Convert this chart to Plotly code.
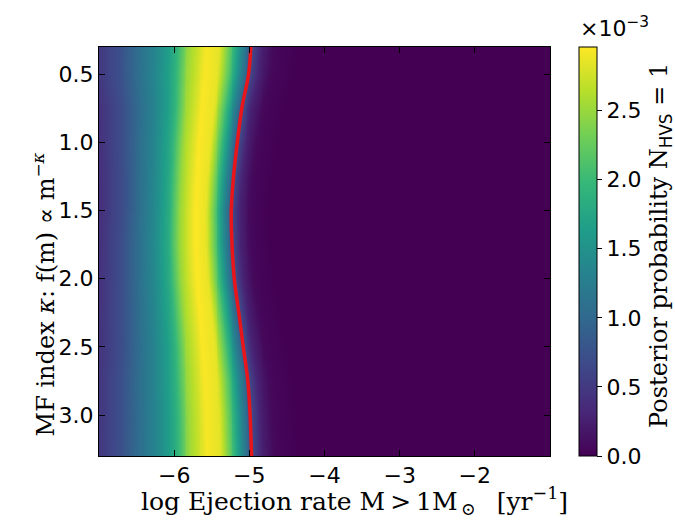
import numpy as np
import plotly.graph_objects as go

# Mass-function index rows (kappa) and log ejection-rate columns
kappa_rows = [0.3, 0.5, 0.75, 1.0, 1.25, 1.5, 1.75, 2.0, 2.25, 2.5, 2.75, 3.0, 3.3]
# position of the posterior peak for each kappa row (log rate)
peak_center = [-5.58, -5.60, -5.64, -5.68, -5.71, -5.73, -5.73, -5.71, -5.67, -5.63, -5.60, -5.58, -5.57]
# upper bound curve (red line) for each kappa row
upper_bound = [-4.98, -5.01, -5.10, -5.16, -5.21, -5.24, -5.23, -5.20, -5.14, -5.08, -5.02, -4.99, -4.97]
# peak posterior value per row, units of 1e-3
peak_value = [2.93, 2.94, 2.95, 2.96, 2.96, 2.96, 2.96, 2.96, 2.96, 2.95, 2.94, 2.93, 2.93]

# cross-section of the posterior around its peak (offset in dex, fraction of peak)
profile_offset = [-2.5, -1.3, -0.95, -0.5, -0.35, -0.2, 0.0, 0.15, 0.28, 0.40, 0.50, 0.60, 0.75, 1.0, 6.0]
profile_frac = [0.03, 0.13, 0.25, 0.50, 0.62, 0.85, 1.0, 0.97, 0.72, 0.45, 0.25, 0.10, 0.02, 0.0, 0.0]

cbar_ticks = [0.0, 0.5, 1.0, 1.5, 2.0, 2.5]
x_ticks = [-6, -5, -4, -3, -2]
y_ticks = [0.5, 1.0, 1.5, 2.0, 2.5, 3.0]

log_rate = np.arange(-7.0, -0.999, 0.025)
kappa = np.arange(0.3, 3.3001, 0.05)

centers = np.interp(kappa, kappa_rows, peak_center)
bounds = np.interp(kappa, kappa_rows, upper_bound)
peaks = np.interp(kappa, kappa_rows, peak_value)
widths = (bounds - centers) / 0.5

z = np.array([
    pk * np.interp((log_rate - c) / w, profile_offset, profile_frac)
    for c, w, pk in zip(centers, widths, peaks)
])

TICK_FONT = dict(family="DejaVu Sans", size=22, color="black")
LABEL_FONT = dict(family="DejaVu Serif", size=24, color="black")
XLABEL_FONT = dict(family="DejaVu Serif", size=25, color="black")

fig = go.Figure()
fig.add_trace(go.Heatmap(
    x=log_rate, y=kappa, z=z,
    colorscale="Viridis", zmin=0, zmax=float(z.max()),
    zsmooth="best",
    colorbar=dict(
        x=1.064, xref="paper", xanchor="left", xpad=0,
        thickness=18, len=1.0, lenmode="fraction", y=0.5, yanchor="middle", ypad=0,
        outlinecolor="black", outlinewidth=1,
        ticks="outside", ticklen=5, tickcolor="black",
        tickvals=cbar_ticks,
        ticktext=[f"{v:.1f}" for v in cbar_ticks],
        tickfont=TICK_FONT,
    ),
))
fig.add_trace(go.Scatter(
    x=upper_bound, y=kappa_rows, mode="lines",
    line=dict(color="#e8151b", width=3.5, shape="spline"),
    showlegend=False, hoverinfo="skip",
))

axis_common = dict(
    ticks="inside", ticklen=6, tickcolor="black", mirror="allticks",
    showline=True, linecolor="black", linewidth=1, showgrid=False, zeroline=False,
    tickfont=TICK_FONT,
)

fig.update_layout(
    width=675, height=520,
    margin=dict(l=99, r=125, t=47, b=64),
    paper_bgcolor="white", plot_bgcolor="white",
    xaxis=dict(range=[-7, -1], tickvals=x_ticks,
               ticktext=[str(v).replace("-", "\u2212") for v in x_ticks], **axis_common),
    yaxis=dict(range=[3.3, 0.3], tickvals=y_ticks,
               ticktext=[f"{v:.1f}" for v in y_ticks], **axis_common),
    annotations=[
        dict(text="\u00d710<sup>\u22123</sup>", xref="paper", yref="paper",
             x=1.062, y=1.0, xanchor="left", yanchor="bottom", yshift=4, showarrow=False,
             font=TICK_FONT),
        dict(text="log Ejection rate M\u2009>\u20091M<sub>\u2009\u2299</sub>\u2009  [yr<sup>\u22121</sup>]",
             xref="paper", yref="paper", x=0.566, y=-0.11, xanchor="center", yanchor="middle",
             showarrow=False, font=XLABEL_FONT),
        dict(text="MF index <i>\u03ba</i>: f(m) \u221d m<sup>\u2212<i>\u03ba</i></sup>",
             xref="paper", yref="paper", x=-0.122, y=0.395, xanchor="center", yanchor="middle",
             textangle=-90, showarrow=False, font=LABEL_FONT),
        dict(text="Posterior probability N<sub><span style=\"font-family:'DejaVu Sans'\">HVS</span></sub> = 1",
             xref="paper", yref="paper", x=1.246, y=0.516, xanchor="center", yanchor="middle",
             textangle=-90, showarrow=False, font=LABEL_FONT),
    ],
)

fig.write_html("out.html")
